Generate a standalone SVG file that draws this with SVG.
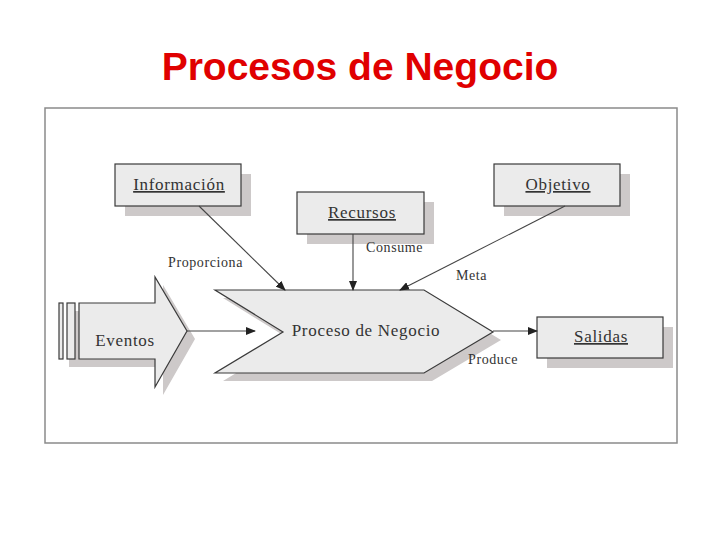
<svg xmlns="http://www.w3.org/2000/svg" width="720" height="540" viewBox="0 0 720 540">
<defs>
<style>
.box{fill:#ebebeb;stroke:#3a3a3a;stroke-width:1.2}
.sh{fill:#cdc9c9}
.lbl{font-family:"Liberation Serif",serif;font-size:17px;letter-spacing:0.7px;fill:#333;text-anchor:middle}
.ul{text-decoration:underline}
.cl{font-family:"Liberation Serif",serif;font-size:14px;letter-spacing:0.6px;fill:#333}
.ln{stroke:#444;stroke-width:1.1;fill:none;marker-end:url(#ah)}
</style>
<marker id="ah" markerWidth="10" markerHeight="8" refX="9" refY="4" orient="auto" markerUnits="userSpaceOnUse">
<path d="M0,0 L10,4 L0,8 Z" fill="#222"/>
</marker>
</defs>
<rect width="720" height="540" fill="#fff"/>
<text x="360" y="80" font-family="Liberation Sans,Arial,sans-serif" font-weight="bold" font-size="39" fill="#e00000" text-anchor="middle">Procesos de Negocio</text>
<rect x="45" y="108" width="632" height="335" fill="#fff" stroke="#8a8a8a" stroke-width="1.5"/>

<g id="informacion">
<rect class="sh" x="125" y="174" width="126" height="42"/>
<rect class="box" x="115" y="164" width="126" height="42"/>
<text class="lbl ul" x="179" y="190">Información</text>
</g>
<g id="recursos">
<rect class="sh" x="307" y="202" width="127" height="42"/>
<rect class="box" x="297" y="192" width="127" height="42"/>
<text class="lbl ul" x="362" y="218">Recursos</text>
</g>
<g id="objetivo">
<rect class="sh" x="504" y="174" width="126" height="42"/>
<rect class="box" x="494" y="164" width="126" height="42"/>
<text class="lbl ul" x="558" y="190">Objetivo</text>
</g>
<g id="salidas">
<rect class="sh" x="547" y="327" width="126" height="41"/>
<rect class="box" x="537" y="317" width="126" height="41"/>
<text class="lbl ul" x="601" y="342">Salidas</text>
</g>
<g id="eventos">
<polygon class="sh" points="69,311 87,311 87,367 69,367"/>
<polygon class="sh" points="87,311 163,311 163,285 195,339 163,395 163,367 87,367"/>
<rect class="box" x="59" y="303" width="4" height="56"/>
<rect class="box" x="67" y="303" width="8" height="56"/>
<polygon class="box" points="79,303 155,303 155,277 187,331 155,387 155,359 79,359"/>
<text class="lbl" x="125" y="346">Eventos</text>
</g>
<g id="proceso">
<polygon class="sh" points="223,298 432,298 501,340 432,381 223,381 291,340"/>
<polygon class="box" points="215,290 424,290 493,332 424,373 215,373 283,332"/>
<text class="lbl" x="366" y="336">Proceso de Negocio</text>
</g>
<g id="connectors">
<line class="ln" x1="199" y1="206" x2="285" y2="290"/>
<line class="ln" x1="353" y1="234" x2="353" y2="290"/>
<line class="ln" x1="565" y1="206" x2="400" y2="290"/>
<line class="ln" x1="187" y1="331" x2="255" y2="331"/>
<line class="ln" x1="493" y1="331" x2="537" y2="331"/>
<text class="cl" x="168" y="267">Proporciona</text>
<text class="cl" x="366" y="252">Consume</text>
<text class="cl" x="456" y="280">Meta</text>
<text class="cl" x="468" y="364">Produce</text>
</g>
</svg>
